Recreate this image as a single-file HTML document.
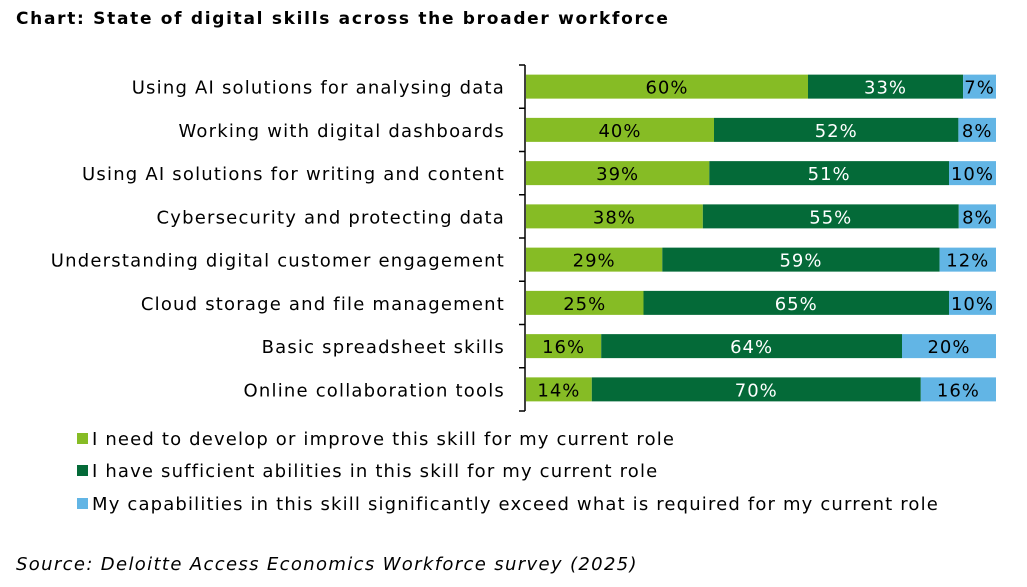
<!DOCTYPE html>
<html><head><meta charset="utf-8"><style>
body{margin:0;background:#fff;width:1027px;height:583px;overflow:hidden;font-family:"DejaVu Sans",Verdana,sans-serif;}
svg text{font-family:"DejaVu Sans",Verdana,sans-serif;}
</style></head><body>
<svg width="1027" height="583">
<text x="16" y="24" font-size="17" font-weight="bold" fill="#000" letter-spacing="1.7">Chart: State of digital skills across the broader workforce</text>
<g id="plot"></g>
<g id="legend"></g>
<text x="16" y="570" font-size="18" font-style="italic" fill="#000" letter-spacing="1.35">Source: Deloitte Access Economics Workforce survey (2025)</text>
</svg>
<script>
const categories=["Using AI solutions for analysing data","Working with digital dashboards","Using AI solutions for writing and content","Cybersecurity and protecting data","Understanding digital customer engagement","Cloud storage and file management","Basic spreadsheet skills","Online collaboration tools"];
const develop=[60,40,39,38,29,25,16,14];
const sufficient=[33,52,51,55,59,65,64,70];
const exceed=[7,8,10,8,12,10,20,16];
const seriesNames=["I need to develop or improve this skill for my current role","I have sufficient abilities in this skill for my current role","My capabilities in this skill significantly exceed what is required for my current role"];
const colors=["#86bc25","#046a38","#62b5e5"];
const textColors=["#000","#fff","#000"];
const NS="http://www.w3.org/2000/svg";
const plot=document.getElementById('plot'),leg=document.getElementById('legend');
const x0=526,x1=996,yTop=65,yBot=411;
const band=(yBot-yTop)/categories.length,barH=24;
function mk(tag,attrs,parent){const e=document.createElementNS(NS,tag);for(const k in attrs)e.setAttribute(k,attrs[k]);parent.appendChild(e);return e;}
const axis=mk('line',{x1:x0-1,x2:x0-1,y1:yTop,y2:yBot,stroke:'#000','stroke-width':1.5},plot);


for(let i=0;i<=categories.length;i++){const y=yTop+i*band;const t=mk('line',{x1:x0-7,x2:x0-1,y1:y,y2:y,stroke:'#000','stroke-width':1.5},plot);

}
const series=[develop,sufficient,exceed];
categories.forEach((c,i)=>{
 const cy=yTop+band*(i+0.5);
 const lb=mk('text',{x:505,y:cy+7,'text-anchor':'end','font-size':18,fill:'#000','letter-spacing':1.2},plot);lb.textContent=c;
 
 
 const total=series.reduce((a,s)=>a+s[i],0);
 const xs=v=>x0+(x1-x0)*v/total;
 let acc=0;
 series.forEach((s,j)=>{
  const v=s[i];const xa=xs(acc),xb=xs(acc+v);
  const r=mk('rect',{x:xa,y:cy-barH/2,width:xb-xa,height:barH,fill:colors[j]},plot);
  
  
  const t=mk('text',{x:(xa+xb)/2,y:cy+7,'text-anchor':'middle','font-size':18,fill:textColors[j],'letter-spacing':1},plot);t.textContent=v+'%';
  
  
  acc+=v;
 });
});
const ly=[438,470,503];
seriesNames.forEach((n,j)=>{
 const r=mk('rect',{x:77,y:ly[j]-5,width:11,height:11,fill:colors[j]},leg);
 
 
 const t=mk('text',{x:92,y:ly[j]+7,'font-size':18,fill:'#000','letter-spacing':1.16},leg);t.textContent=n;
 
 
});
</script>
</body></html>
